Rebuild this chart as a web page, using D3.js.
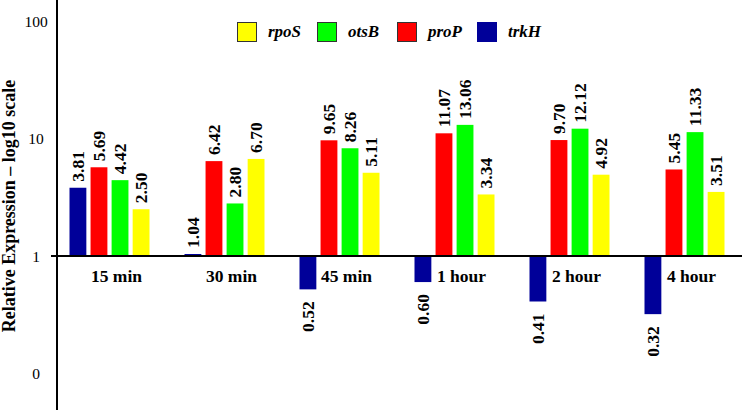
<!DOCTYPE html>
<html><head><meta charset="utf-8">
<script src="https://cdn.jsdelivr.net/npm/d3@7"></script>
<style>body{margin:0;background:#fff}svg{display:block}</style>
</head><body>
<svg id="c" width="742" height="410"></svg>
<script>
const categories = ["15 min","30 min","45 min","1 hour","2 hour","4 hour"];
const seriesNames = ["trkH","proP","otsB","rpoS"];
const trkH = [3.81,1.04,0.52,0.60,0.41,0.32];
const proP = [5.69,6.42,9.65,11.07,9.70,5.45];
const otsB = [4.42,2.80,8.26,13.06,12.12,11.33];
const rpoS = [2.50,6.70,5.11,3.34,4.92,3.51];
const seriesColors = ["#000099","#ff0000","#00ff00","#ffff00"];
const legendOrder = ["rpoS","otsB","proP","trkH"];
const tickValues = [100,10,1,0.1];
const tickLabels = ["100","10","1","0"];

const values = {trkH, proP, otsB, rpoS};
const color = d3.scaleOrdinal().domain(seriesNames).range(seriesColors);
const svg = d3.select("#c");
const font = "'Liberation Serif','Times New Roman',serif";

const y = d3.scaleLog().domain([0.1,100]).range([373.5,21]);
const x0 = d3.scaleBand().domain(categories).range([52,742]);
const x1 = d3.scaleBand().domain(seriesNames).range([17.5,97.5]).paddingInner(0.2);

// bars
const g = svg.append("g");
categories.forEach((c,i)=>{
  const gg = g.append("g").attr("transform",`translate(${x0(c)},0)`);
  seriesNames.forEach(s=>{
    const v = values[s][i];
    const top = Math.min(y(v), y(1)), bot = Math.max(y(v), y(1));
    gg.append("rect").attr("x",x1(s)).attr("width",x1.bandwidth())
      .attr("y",top).attr("height",Math.max(bot-top,1)).attr("fill",color(s));
    const cx = x1(s)+x1.bandwidth()/2;
    const ly = v>=1 ? top-6 : bot+12;
    gg.append("text").attr("transform",`translate(${cx+6},${ly}) rotate(-90)`)
      .attr("text-anchor", v>=1 ? "start":"end")
      .attr("font-family",font).attr("font-weight","bold").attr("font-size",17.5)
      .text(v.toFixed(2));
  });
  svg.append("text").attr("x",x0(c)+x0.bandwidth()/2+7).attr("y",282)
    .attr("text-anchor","middle").attr("font-family",font).attr("font-weight","bold")
    .attr("font-size",17.5).text(c);
});

// axes
svg.append("line").attr("x1",57).attr("x2",57).attr("y1",0).attr("y2",410)
  .attr("stroke","#000").attr("stroke-width",2);
svg.append("line").attr("x1",51).attr("x2",742).attr("y1",y(1)).attr("y2",y(1))
  .attr("stroke","#000").attr("stroke-width",2);
tickValues.forEach((t,i)=>{
  svg.append("text").attr("x",36).attr("y",y(t)+5.5).attr("text-anchor","middle")
    .attr("font-family",font).attr("font-size",15.5).text(tickLabels[i]);
});
svg.append("text").attr("transform","translate(15,206) rotate(-90)")
  .attr("text-anchor","middle").attr("font-family",font).attr("font-weight","bold")
  .attr("font-size",18).text("Relative Expression – log10 scale");

// legend
const lg = svg.append("g");
legendOrder.forEach((s,i)=>{
  const lx = 237 + i*80;
  lg.append("rect").attr("x",lx+0.5).attr("y",22.5).attr("width",19).attr("height",19)
    .attr("fill",color(s)).attr("stroke", s==="trkH" ? color(s) : "#333").attr("stroke-width",1);
  lg.append("text").attr("x",lx+31).attr("y",37).attr("font-family",font)
    .attr("font-weight","bold").attr("font-style","italic").attr("font-size",17).text(s);
});
</script>
</body></html>
